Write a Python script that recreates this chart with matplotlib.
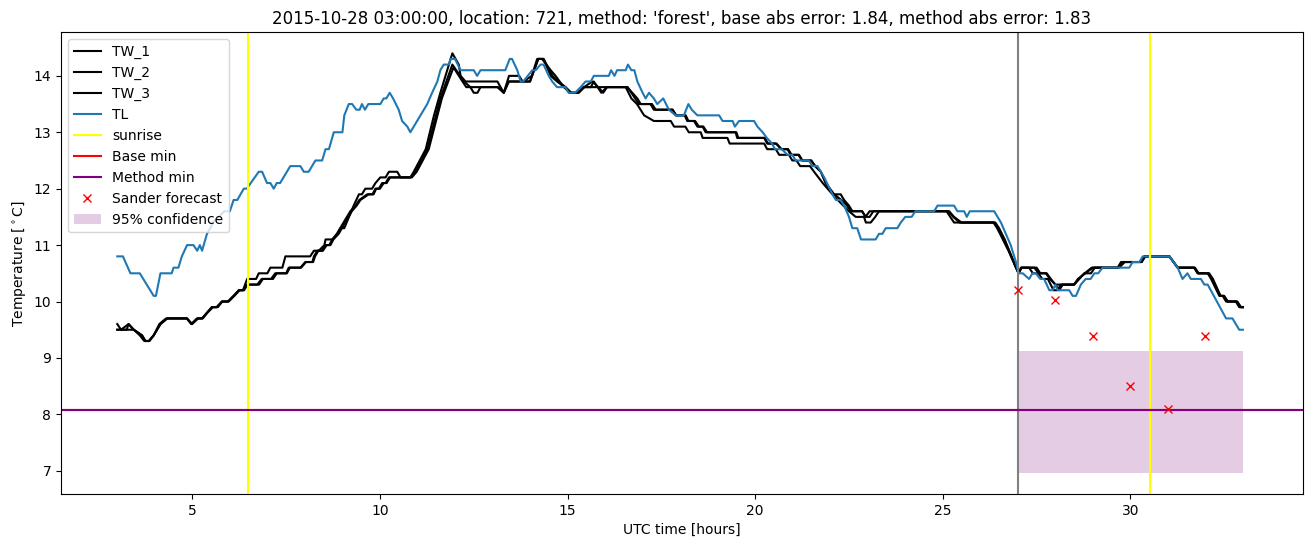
import numpy as np
import matplotlib
matplotlib.use("Agg")
import matplotlib.pyplot as plt

# --- data (hours UTC, deg C) ---
tl_time = [3.0, 3.15, 3.35, 3.6, 3.97, 4.03, 4.15, 4.45, 4.5, 4.63, 4.72, 4.86, 5.03, 5.13, 5.2, 5.26,
           5.39, 5.48, 5.55, 5.7, 5.85, 6.0, 6.1, 6.2, 6.37, 6.45, 6.77, 6.86, 6.99, 7.08, 7.17, 7.25,
           7.34, 7.61, 7.88, 7.97, 8.1, 8.28, 8.46, 8.55, 8.64, 8.77, 9.0, 9.05, 9.17, 9.26, 9.37, 9.46,
           9.52, 9.6, 9.69, 10.01, 10.1, 10.17, 10.26, 10.35, 10.5, 10.59, 10.73, 10.81, 10.9, 11.26,
           11.39, 11.53, 11.61, 11.7, 11.84, 11.88, 12.0, 12.15, 12.5, 12.59, 12.68, 13.34, 13.46,
           13.52, 13.66, 13.75, 13.82, 14.06, 14.15, 14.28, 14.36, 14.5, 14.59, 14.72, 14.94, 15.03,
           15.2, 15.35, 15.48, 15.62, 15.7, 16.1, 16.16, 16.25, 16.32, 16.55, 16.61, 16.7, 16.78,
           16.86, 17.0, 17.08, 17.17, 17.3, 17.39, 17.55, 17.7, 17.88, 18.1, 18.22, 18.31, 18.46,
           19.04, 19.13, 19.4, 19.46, 19.57, 19.97, 20.06, 20.2, 20.31, 20.45, 20.53, 20.71, 20.86,
           20.99, 21.08, 21.43, 21.52, 21.66, 21.84, 22.06, 22.15, 22.28, 22.37, 22.5, 22.59, 22.72,
           22.82, 23.21, 23.3, 23.39, 23.48, 23.79, 23.88, 24.0, 24.17, 24.27, 24.77, 24.86, 25.3,
           25.39, 25.57, 25.64, 25.72, 26.37, 26.46, 26.55, 26.68, 26.81, 26.95, 27.02, 27.13, 27.3,
           27.39, 27.48, 27.6, 27.7, 27.84, 27.93, 28.0, 28.06, 28.28, 28.37, 28.46, 28.55, 28.68,
           28.81, 28.94, 29.04, 29.14, 29.26, 29.97, 30.06, 30.24, 30.33, 31.04, 31.26, 31.39, 31.52,
           31.61, 31.88, 31.97, 32.06, 32.55, 32.72, 32.9, 33.0]
tl_temp = [10.8, 10.8, 10.5, 10.5, 10.1, 10.1, 10.5, 10.5, 10.6, 10.6, 10.8, 11.0, 11.0, 10.9, 11.0, 10.9,
           11.2, 11.3, 11.4, 11.5, 11.6, 11.6, 11.8, 11.8, 12.0, 12.0, 12.3, 12.3, 12.1, 12.1, 12.0, 12.1,
           12.1, 12.4, 12.4, 12.3, 12.3, 12.5, 12.5, 12.7, 12.7, 13.0, 13.0, 13.3, 13.5, 13.5, 13.4, 13.4,
           13.5, 13.4, 13.5, 13.5, 13.6, 13.6, 13.7, 13.6, 13.4, 13.2, 13.1, 13.0, 13.1, 13.5,
           13.7, 13.9, 14.1, 14.2, 14.2, 14.3, 14.3, 14.1, 14.1, 14.0, 14.1, 14.1, 14.3,
           14.3, 14.1, 13.9, 13.9, 14.1, 14.1, 14.2, 14.2, 14.0, 13.9, 13.8, 13.8, 13.7,
           13.7, 13.8, 13.9, 13.9, 14.0, 14.0, 14.1, 14.0, 14.1, 14.1, 14.2, 14.1, 14.1,
           13.9, 13.7, 13.6, 13.7, 13.6, 13.5, 13.6, 13.4, 13.3, 13.3, 13.5, 13.4, 13.3,
           13.3, 13.2, 13.2, 13.1, 13.2, 13.2, 13.1, 13.0, 12.9, 12.8, 12.7, 12.7, 12.6,
           12.6, 12.5, 12.5, 12.4, 12.4, 12.2, 11.9, 11.8, 11.8, 11.7, 11.5, 11.3, 11.3,
           11.1, 11.1, 11.2, 11.2, 11.3, 11.3, 11.4, 11.5, 11.5, 11.6, 11.6, 11.7, 11.7,
           11.6, 11.6, 11.5, 11.6, 11.6, 11.5, 11.4, 11.2, 11.0, 10.7, 10.5, 10.5, 10.4,
           10.5, 10.5, 10.4, 10.4, 10.2, 10.2, 10.3, 10.2, 10.2, 10.2, 10.1, 10.1, 10.3,
           10.4, 10.4, 10.5, 10.5, 10.6, 10.6, 10.7, 10.7, 10.8, 10.8, 10.6, 10.4, 10.5,
           10.4, 10.4, 10.3, 10.3, 9.7, 9.7, 9.5, 9.5]

tw1_time = [3.0, 3.1, 3.3, 3.44, 3.66, 3.75, 3.84, 3.97, 4.15, 4.33, 4.86, 4.99, 5.15, 5.26, 5.39, 5.52,
            5.65, 5.79, 5.95, 6.1, 6.24, 6.35, 6.46, 6.7, 6.77, 7.0, 7.08, 7.4, 7.48, 8.14, 8.24, 8.37,
            8.52, 8.55, 8.73, 8.88, 8.95, 9.05, 9.3, 9.44, 9.52, 9.61, 9.79, 9.88, 10.01, 10.15, 10.24,
            10.46, 10.55, 10.81, 10.9, 11.22, 11.44, 11.61, 11.93, 12.1, 12.15, 12.28, 13.13, 13.3,
            13.44, 13.71, 13.8, 14.0, 14.19, 14.32, 14.55, 14.68, 14.9, 15.08, 15.26, 15.44, 15.66,
            15.82, 15.95, 16.05, 16.59, 16.86, 16.95, 17.21, 17.3, 17.8, 17.88, 18.12, 18.19, 18.37,
            18.46, 18.6, 18.68, 19.48, 19.52, 20.24, 20.32, 20.55, 20.7, 20.86, 20.95, 21.17, 21.26,
            21.5, 21.6, 21.75, 21.88, 22.1, 22.28, 22.37, 22.5, 22.59, 22.85, 22.94, 23.05, 25.17,
            25.3, 25.5, 26.37, 26.46, 26.64, 26.8, 26.95, 27.02, 27.08, 27.44, 27.55, 27.77, 27.88,
            28.0, 28.5, 28.64, 28.77, 28.95, 29.05, 29.66, 29.75, 30.28, 30.37, 31.04, 31.26, 31.7,
            31.79, 32.06, 32.15, 32.37, 32.46, 32.55, 32.81, 32.9, 33.0]
tw1_temp = [9.6, 9.5, 9.6, 9.5, 9.4, 9.3, 9.3, 9.4, 9.6, 9.7, 9.7, 9.6, 9.7, 9.7, 9.8, 9.9,
            9.9, 10.0, 10.0, 10.1, 10.2, 10.2, 10.4, 10.4, 10.5, 10.5, 10.6, 10.6, 10.8, 10.8, 10.9, 10.9,
            11.0, 11.1, 11.1, 11.2, 11.3, 11.3, 11.7, 11.9, 11.9, 12.0, 12.0, 12.1, 12.2, 12.2, 12.3,
            12.3, 12.2, 12.2, 12.3, 12.7, 13.3, 13.7, 14.4, 14.2, 14.0, 13.9, 13.9, 13.7,
            14.0, 14.0, 13.9, 13.9, 14.3, 14.3, 14.1, 14.0, 13.8, 13.7, 13.7, 13.8, 13.9,
            13.8, 13.7, 13.8, 13.8, 13.6, 13.5, 13.5, 13.4, 13.4, 13.3, 13.3, 13.2, 13.2,
            13.1, 13.1, 13.0, 13.0, 12.9, 12.9, 12.8, 12.8, 12.7, 12.7, 12.6, 12.6, 12.5,
            12.5, 12.4, 12.3, 12.1, 11.9, 11.9, 11.8, 11.7, 11.6, 11.6, 11.5, 11.6, 11.6,
            11.5, 11.4, 11.4, 11.3, 11.1, 10.85, 10.6, 10.5, 10.6, 10.6, 10.5, 10.5, 10.4,
            10.3, 10.3, 10.4, 10.5, 10.5, 10.6, 10.6, 10.7, 10.7, 10.8, 10.8, 10.6, 10.6,
            10.5, 10.5, 10.4, 10.1, 10.1, 10.0, 10.0, 9.9, 9.9]

tw2_time = [3.0, 3.25, 3.3, 3.44, 3.6, 3.72, 3.86, 3.97, 4.12, 4.3, 4.85, 4.97, 5.12, 5.28, 5.4, 5.55,
            5.68, 5.8, 5.97, 6.12, 6.26, 6.38, 6.47, 6.78, 6.88, 7.15, 7.25, 7.52, 7.6, 7.9, 8.03, 8.22,
            8.27, 8.36, 8.48, 8.58, 8.68, 8.76, 8.9, 9.25, 9.38, 9.48, 9.7, 9.83, 9.9, 10.0, 10.1, 10.18,
            10.27, 10.85, 10.98, 11.3, 11.65, 11.96, 12.2, 12.3, 13.15, 13.3, 13.42, 13.7, 13.82, 14.05,
            14.22, 14.36, 14.55, 14.72, 14.92, 15.05, 15.28, 15.42, 15.62, 15.7, 15.8, 16.6, 16.8, 16.9,
            17.25, 17.35, 17.8, 17.9, 18.15, 18.22, 18.4, 18.5, 18.62, 18.72, 19.5, 19.55, 20.26, 20.34,
            20.57, 20.7, 20.88, 20.97, 21.15, 21.25, 21.48, 21.6, 21.75, 21.88, 22.1, 22.3, 22.45, 22.55,
            22.85, 22.95, 23.05, 23.15, 25.15, 25.28, 25.45, 26.4, 26.5, 26.65, 26.8, 26.96, 27.02, 27.1,
            27.5, 27.6, 27.75, 27.85, 28.0, 28.1, 28.2, 28.5, 28.62, 28.78, 28.97, 29.68, 29.8, 30.3,
            30.38, 31.04, 31.26, 31.72, 31.82, 32.08, 32.18, 32.4, 32.48, 32.58, 32.83, 32.92, 33.0]
tw2_temp = [9.5, 9.5, 9.6, 9.5, 9.4, 9.3, 9.3, 9.4, 9.6, 9.7, 9.7, 9.6, 9.7, 9.7, 9.8, 9.9,
            9.9, 10.0, 10.0, 10.1, 10.2, 10.2, 10.3, 10.3, 10.4, 10.4, 10.5, 10.5, 10.6, 10.6, 10.7, 10.7,
            10.8, 10.9, 10.9, 11.0, 11.0, 11.1, 11.2, 11.6, 11.7, 11.8, 11.9, 11.9, 12.0, 12.0, 12.1, 12.1,
            12.2, 12.2, 12.3, 12.7, 13.6, 14.15, 13.9, 13.8, 13.8, 13.7, 13.9, 13.9, 13.9, 14.0,
            14.3, 14.3, 14.0, 13.9, 13.8, 13.7, 13.7, 13.8, 13.8, 13.9, 13.8, 13.8, 13.6, 13.5,
            13.5, 13.4, 13.4, 13.3, 13.3, 13.2, 13.2, 13.1, 13.1, 13.0, 13.0, 12.9, 12.9, 12.8,
            12.8, 12.7, 12.7, 12.6, 12.6, 12.5, 12.5, 12.4, 12.3, 12.1, 11.9, 11.8, 11.7, 11.6,
            11.6, 11.5, 11.5, 11.6, 11.6, 11.5, 11.4, 11.4, 11.3, 11.1, 10.85, 10.6, 10.5, 10.6,
            10.6, 10.5, 10.5, 10.4, 10.3, 10.2, 10.3, 10.3, 10.4, 10.5, 10.6, 10.6, 10.7, 10.7,
            10.8, 10.8, 10.6, 10.6, 10.5, 10.5, 10.4, 10.1, 10.1, 10.0, 10.0, 9.9, 9.9]

tw3_time = [3.0, 3.3, 3.44, 3.66, 3.75, 3.84, 3.97, 4.15, 4.33, 4.86, 4.99, 5.15, 5.26, 5.39, 5.52, 5.65,
            5.79, 5.95, 6.1, 6.24, 6.35, 6.46, 6.73, 6.85, 7.1, 7.21, 7.5, 7.57, 7.88, 8.01, 8.2, 8.24,
            8.33, 8.45, 8.55, 8.65, 8.73, 8.85, 9.21, 9.35, 9.45, 9.66, 9.8, 9.88, 9.97, 10.06, 10.15,
            10.24, 10.81, 10.95, 11.26, 11.61, 11.93, 12.24, 12.41, 12.5, 12.6, 12.68, 13.13, 13.3,
            13.44, 13.85, 14.0, 14.22, 14.36, 14.6, 14.75, 14.95, 15.1, 15.3, 15.45, 15.8, 15.9, 16.05,
            16.55, 16.7, 16.85, 17.04, 17.3, 17.75, 17.84, 18.14, 18.23, 18.55, 18.6, 19.26, 19.32,
            20.24, 20.32, 20.55, 20.64, 20.9, 20.99, 21.1, 21.2, 21.46, 21.57, 21.8, 22.06, 22.2, 22.35,
            22.5, 22.68, 22.9, 22.95, 23.08, 23.2, 23.3, 25.1, 25.2, 25.3, 26.35, 26.45, 26.6, 26.75,
            26.95, 27.02, 27.1, 27.3, 27.4, 27.55, 27.65, 27.8, 27.95, 28.05, 28.15, 28.5, 28.6, 28.8,
            29.0, 29.7, 29.85, 30.3, 30.4, 31.04, 31.26, 31.7, 31.8, 32.1, 32.2, 32.4, 32.5, 32.6,
            32.85, 32.95, 33.0]
tw3_temp = [9.5, 9.5, 9.5, 9.4, 9.3, 9.3, 9.4, 9.6, 9.7, 9.7, 9.6, 9.7, 9.7, 9.8, 9.9, 9.9,
            10.0, 10.0, 10.1, 10.2, 10.2, 10.3, 10.3, 10.4, 10.4, 10.5, 10.5, 10.6, 10.6, 10.7, 10.7, 10.8,
            10.9, 10.9, 11.0, 11.0, 11.1, 11.2, 11.6, 11.7, 11.8, 11.9, 11.9, 12.0, 12.0, 12.1, 12.1,
            12.2, 12.2, 12.3, 12.7, 13.6, 14.2, 13.9, 13.8, 13.7, 13.7, 13.8, 13.8, 13.7,
            13.9, 13.9, 13.9, 14.3, 14.3, 14.0, 13.9, 13.8, 13.7, 13.7, 13.8, 13.8, 13.7, 13.8,
            13.8, 13.6, 13.5, 13.3, 13.2, 13.2, 13.1, 13.1, 13.0, 13.0, 12.9, 12.9, 12.8,
            12.8, 12.7, 12.7, 12.6, 12.6, 12.5, 12.5, 12.4, 12.4, 12.3, 12.1, 11.9, 11.8, 11.7,
            11.6, 11.5, 11.5, 11.4, 11.4, 11.5, 11.6, 11.6, 11.5, 11.4, 11.4, 11.3, 11.1, 10.9,
            10.6, 10.5, 10.6, 10.6, 10.5, 10.5, 10.4, 10.4, 10.2, 10.2, 10.3, 10.3, 10.4, 10.5,
            10.6, 10.6, 10.7, 10.7, 10.8, 10.8, 10.6, 10.6, 10.5, 10.5, 10.4, 10.1, 10.1, 10.0,
            10.0, 9.9, 9.9]

sunrise_times = [6.48, 30.53]
forecast_start = 27.0
base_min = 8.08
method_min = 8.08
forecast_time = [27, 28, 29, 30, 31, 32]
forecast_temp = [10.21, 10.02, 9.38, 8.51, 8.09, 9.38]
conf_time = [27, 33]
conf_low = 6.96
conf_high = 9.13

title = ("2015-10-28 03:00:00, location: 721, method: 'forest', "
         "base abs error: 1.84, method abs error: 1.83")

fig, ax = plt.subplots(figsize=(13.11, 5.47), dpi=100)
fig.subplots_adjust(left=61/1311, right=1303/1311, bottom=1-494/547, top=1-32.3/547)

ax.plot(tw1_time, tw1_temp, color="black", label="TW_1")
ax.plot(tw2_time, tw2_temp, color="black", label="TW_2")
ax.plot(tw3_time, tw3_temp, color="black", label="TW_3")
ax.plot(tl_time, tl_temp, color="tab:blue", label="TL")

# sunrise markers, only the first one goes in the legend
ax.axvline(sunrise_times[0], color="yellow", label="sunrise")
ax.axvline(sunrise_times[1], color="yellow")
ax.axvline(forecast_start, color="grey")

# base min sits under the method min line
ax.axhline(base_min, color="red", label="Base min")
ax.axhline(method_min, color="purple", label="Method min")
ax.plot(forecast_time, forecast_temp, "rx", label="Sander forecast")
ax.fill_between(conf_time, [conf_low]*len(conf_time), [conf_high]*len(conf_time),
                color="purple", alpha=0.2, linewidth=0, label="95% confidence")

ax.set_xlim(1.5, 34.6)
ax.set_title(title)
ax.set_xlabel("UTC time [hours]")
ax.set_ylabel("Temperature [$^\\circ$C]")
ax.legend(loc="upper left")

fig.savefig("out.png", dpi=100)
